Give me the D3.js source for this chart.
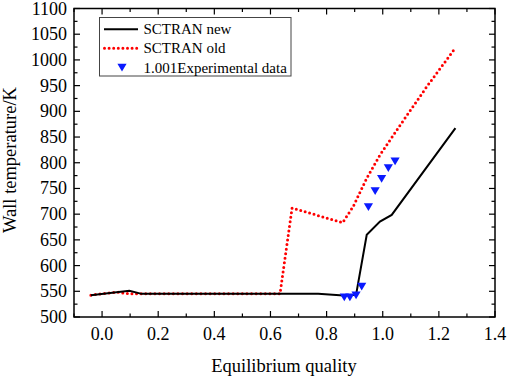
<!DOCTYPE html>
<html>
<head>
<meta charset="utf-8">
<script src="https://cdn.jsdelivr.net/npm/d3@7"></script>
<style>
  html, body { margin: 0; padding: 0; background: #fff; }
  svg { display: block; font-family: "Liberation Serif", "Times New Roman", serif; }
</style>
</head>
<body>
<svg id="chart" width="507" height="376"></svg>
<script>
// values
const newX = [-0.04, 0.097, 0.141, 0.77, 0.86, 0.905, 0.943, 0.99, 1.032, 1.259];
const newY = [542.5, 551, 545, 545, 542, 543, 660, 685.5, 698.5, 867.5];
const oldX = [-0.04, 0.052, 0.098, 0.634, 0.677, 0.857, 0.895, 0.943, 0.99, 1.062, 1.157, 1.259];
const oldY = [542.5, 548.5, 545, 545, 712, 683.5, 715, 770, 815, 873, 948, 1023.5];
const expX = [0.863, 0.883, 0.905, 0.925, 0.949, 0.973, 0.996, 1.02, 1.044];
const expY = [539.5, 539.5, 543.5, 560.5, 715, 746, 770, 791, 804];
const xTicks = [0, 0.2, 0.4, 0.6, 0.8, 1.0, 1.2, 1.4];
const yTicks = [500, 550, 600, 650, 700, 750, 800, 850, 900, 950, 1000, 1050, 1100];
const legendLabels = ['SCTRAN new', 'SCTRAN old', '1.001Experimental data'];

const svg = d3.select('#chart');
const m = { left: 74, right: 495, top: 8.5, bottom: 317 };

const x = d3.scaleLinear().domain([-0.1, 1.4]).range([m.left, m.right]);
const y = d3.scaleLinear().domain([500, 1100]).range([m.bottom, m.top]);

// ticks, inward
const tickG = svg.append('g').attr('stroke', '#000').attr('stroke-width', 1.2);
d3.range(-0.1, 1.41, 0.1).forEach((v, i) => {
  const major = i % 2 === 1;
  const px = x(v);
  tickG.append('line').attr('x1', px).attr('x2', px).attr('y1', m.bottom).attr('y2', m.bottom - (major ? 6 : 3.5));
  tickG.append('line').attr('x1', px).attr('x2', px).attr('y1', m.top).attr('y2', m.top + (major ? 6 : 3.5));
});
d3.range(500, 1101, 25).forEach((v, i) => {
  const major = i % 2 === 0;
  const py = y(v);
  tickG.append('line').attr('x1', m.left).attr('x2', m.left + (major ? 6 : 3.5)).attr('y1', py).attr('y2', py);
  tickG.append('line').attr('x1', m.right).attr('x2', m.right - (major ? 6 : 3.5)).attr('y1', py).attr('y2', py);
});

// frame
svg.append('rect')
  .attr('x', m.left).attr('y', m.top)
  .attr('width', m.right - m.left).attr('height', m.bottom - m.top)
  .attr('fill', 'none').attr('stroke', '#000').attr('stroke-width', 1.5);

// tick labels
svg.append('g').selectAll('text').data(xTicks).join('text')
  .attr('x', d => x(d)).attr('y', 339.5)
  .attr('text-anchor', 'middle').attr('font-size', 18)
  .text(d => d.toFixed(1));
svg.append('g').selectAll('text').data(yTicks).join('text')
  .attr('x', 67).attr('y', d => y(d) + 6)
  .attr('text-anchor', 'end').attr('font-size', 18)
  .text(d => d);

// axis titles
svg.append('text').attr('x', 284).attr('y', 372)
  .attr('text-anchor', 'middle').attr('font-size', 18.5)
  .text('Equilibrium quality');
svg.append('text')
  .attr('transform', 'translate(16,160) rotate(-90)')
  .attr('text-anchor', 'middle').attr('font-size', 18.5)
  .text('Wall temperature/K');

const line = d3.line().x(d => x(d[0])).y(d => y(d[1]));

// SCTRAN old (red dots)
svg.append('path')
  .datum(oldX.map((v, i) => [v, oldY[i]]))
  .attr('d', line)
  .attr('fill', 'none').attr('stroke', '#ff0000').attr('stroke-width', 3)
  .attr('stroke-linecap', 'round').attr('stroke-dasharray', '0,4.6');

// SCTRAN new (black)
svg.append('path')
  .datum(newX.map((v, i) => [v, newY[i]]))
  .attr('d', line)
  .attr('fill', 'none').attr('stroke', '#000').attr('stroke-width', 2);

// experimental triangles
const tri = (cx, cy) => `M${cx - 4.6},${cy - 3.2}L${cx + 4.6},${cy - 3.2}L${cx},${cy + 4.6}Z`;
svg.append('g').selectAll('path').data(expX.map((v, i) => [v, expY[i]])).join('path')
  .attr('d', d => tri(x(d[0]), y(d[1])))
  .attr('fill', '#0a1aff');

// legend
const lg = svg.append('g');
lg.append('rect').attr('x', 99.5).attr('y', 17.5).attr('width', 191.5).attr('height', 58.5)
  .attr('fill', '#fff').attr('stroke', '#444').attr('stroke-width', 1);
const rowY = [29.3, 48.3, 67.5];
lg.append('line').attr('x1', 104).attr('x2', 138).attr('y1', rowY[0]).attr('y2', rowY[0])
  .attr('stroke', '#000').attr('stroke-width', 2);
lg.append('line').attr('x1', 104.5).attr('x2', 137).attr('y1', rowY[1]).attr('y2', rowY[1])
  .attr('stroke', '#ff0000').attr('stroke-width', 3)
  .attr('stroke-linecap', 'round').attr('stroke-dasharray', '0,4.6');
lg.append('path').attr('d', tri(122, rowY[2] - 0.5)).attr('fill', '#0a1aff');
lg.selectAll('text.lbl').data(legendLabels).join('text')
  .attr('class', 'lbl')
  .attr('x', 143.5).attr('y', (d, i) => rowY[i] + 5)
  .attr('font-size', 15)
  .text(d => d);
</script>
</body>
</html>
